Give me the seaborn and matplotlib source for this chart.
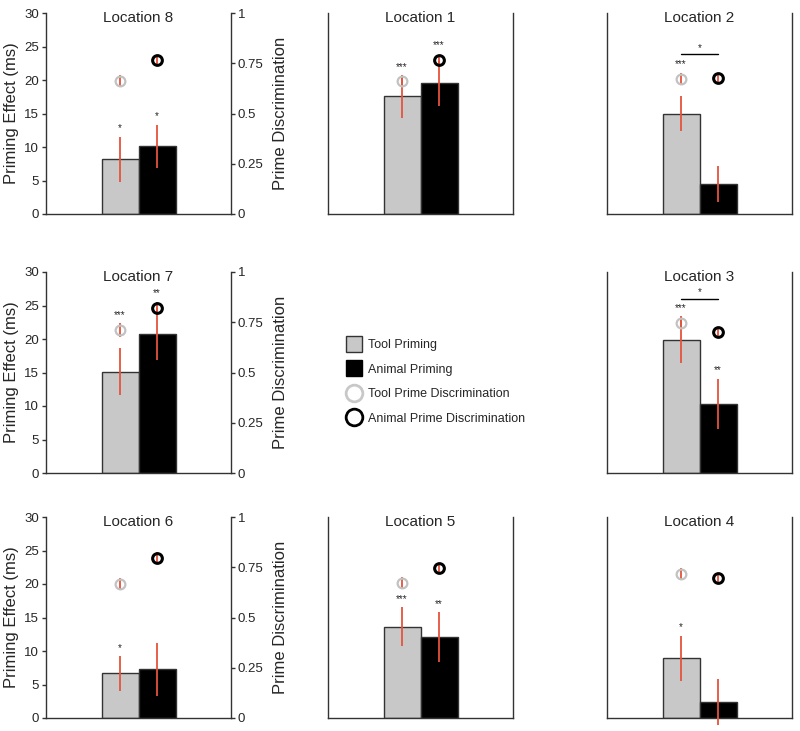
import numpy as np
import pandas as pd
import seaborn as sns
import matplotlib.pyplot as plt
from matplotlib.lines import Line2D

# values per location, index 0 -> Location 1 ... index 7 -> Location 8
locations = [1, 2, 3, 4, 5, 6, 7, 8]
tool_priming = [17.6, 15.0, 19.9, 8.9, 13.6, 6.7, 15.1, 8.2]
tool_err = [3.2, 2.6, 3.5, 3.4, 2.9, 2.6, 3.5, 3.35]
animal_priming = [19.5, 4.45, 10.35, 2.4, 12.1, 7.3, 20.8, 10.1]
animal_err = [3.35, 2.65, 3.75, 3.4, 3.7, 3.95, 3.9, 3.25]
tool_disc = [0.66, 0.673, 0.746, 0.715, 0.672, 0.669, 0.711, 0.663]
tool_disc_err = [0.03, 0.03, 0.03, 0.03, 0.03, 0.03, 0.035, 0.03]
animal_disc = [0.767, 0.675, 0.703, 0.695, 0.746, 0.797, 0.822, 0.767]
animal_disc_err = [0.025, 0.025, 0.025, 0.025, 0.025, 0.03, 0.03, 0.025]

# significance: stars and whether they sit over the bar or the discrimination circle
tool_sig = ['***', '***', '***', '*', '***', '*', '***', '*']
tool_sig_on = ['disc', 'disc', 'disc', 'bar', 'bar', 'bar', 'disc', 'bar']
animal_sig = ['***', '', '**', '', '**', '', '**', '*']
animal_sig_on = ['disc', '', 'bar', '', 'bar', '', 'disc', 'bar']
diff_sig = ['', '*', '*', '', '', '', '', '']

grid = [[8, 1, 2], [7, None, 3], [6, 5, 4]]

TOOL = '#c8c8c8'
ANIMAL = '#000000'
RED = '#e5533c'
SPINE = '#333333'

sns.set_style('white')
plt.rcParams['font.family'] = ['Liberation Sans', 'DejaVu Sans']

W, H = 800, 731
fig = plt.figure(figsize=(W / 100, H / 100), dpi=100)

col_left = [46, 328, 607]
row_top = [13, 272, 517]
aw, ah = 185, 201

for r in range(3):
    for c in range(3):
        loc = grid[r][c]
        if loc is None:
            continue
        i = locations.index(loc)
        ax = fig.add_axes([col_left[c] / W, 1 - (row_top[r] + ah) / H, aw / W, ah / H])

        df = pd.DataFrame({'prime': ['Tool', 'Animal'],
                           'ms': [tool_priming[i], animal_priming[i]]})
        sns.barplot(data=df, x='prime', y='ms', hue='prime',
                    palette={'Tool': TOOL, 'Animal': ANIMAL}, width=1.0,
                    edgecolor=SPINE, linewidth=1, errorbar=None, legend=False, ax=ax)
        eb = ax.errorbar([0, 1], [tool_priming[i], animal_priming[i]],
                         yerr=[tool_err[i], animal_err[i]], fmt='none',
                         ecolor=RED, elinewidth=1.3, capsize=0, zorder=3)
        for ln in eb.lines[2]:
            ln.set_clip_on(False)

        ax.set_xlim(-2, 3)
        ax.set_ylim(0, 30)
        ax.set_xlabel('')
        ax.set_xticks([])

        ax2 = ax.twinx()
        ax2.set_ylim(0, 1)
        ax2.errorbar([0], [tool_disc[i]], yerr=[tool_disc_err[i]], fmt='none',
                     ecolor=RED, elinewidth=1.3, capsize=0)
        ax2.errorbar([1], [animal_disc[i]], yerr=[animal_disc_err[i]], fmt='none',
                     ecolor=RED, elinewidth=1.3, capsize=0)
        ax2.plot([0], [tool_disc[i]], marker='o', ms=7, mfc='none', mec='#c2c2c2',
                 mew=1.6, ls='none')
        ax2.plot([1], [animal_disc[i]], marker='o', ms=7, mfc='none', mec='black',
                 mew=2.2, ls='none')

        for a in (ax, ax2):
            a.spines['top'].set_visible(False)
            for s in a.spines.values():
                s.set_color(SPINE)
                s.set_linewidth(1)
        ax.spines['right'].set_visible(False)
        ax2.spines['left'].set_visible(False)
        ax2.spines['bottom'].set_visible(False)

        if c == 0:
            ax.set_yticks([0, 5, 10, 15, 20, 25, 30])
            ax.tick_params(axis='y', left=True, direction='out', length=3,
                           width=1, color=SPINE, labelsize=9.5, pad=2)
            ax2.set_yticks([0, 0.25, 0.5, 0.75, 1])
            ax2.set_yticklabels(['0', '0.25', '0.5', '0.75', '1'])
            ax2.tick_params(axis='y', right=True, direction='out', length=3,
                            width=1, color=SPINE, labelsize=9.5, pad=2)
            ax.set_ylabel('Priming Effect (ms)', fontsize=12, labelpad=4)
            ax2.set_ylabel('Prime Discrimination', fontsize=12, labelpad=7)
        else:
            ax.set_yticks([])
            ax2.set_yticks([])
            ax.set_ylabel('')

        ax.text(0.5, 1.01, f'Location {loc}', transform=ax.transAxes,
                ha='center', va='top', fontsize=11)

        # significance stars
        star_y = []
        for x, sig, on, val, err, disc in [
                (0, tool_sig[i], tool_sig_on[i], tool_priming[i], tool_err[i], tool_disc[i]),
                (1, animal_sig[i], animal_sig_on[i], animal_priming[i], animal_err[i], animal_disc[i])]:
            y = val + err + 1.2 if on == 'bar' else disc * 30 + 2.2
            star_y.append(y)
            if sig:
                ax.text(x, y, sig, ha='center', va='center', fontsize=7)
        if diff_sig[i]:
            yb = star_y[0] + 1.45
            ax.plot([0, 1], [yb, yb], color='black', lw=1)
            ax.text(0.5, yb + 0.9, diff_sig[i], ha='center', va='center', fontsize=7)

handles = [
    Line2D([], [], marker='s', ms=12, mfc=TOOL, mec=SPINE, mew=1, ls='none'),
    Line2D([], [], marker='s', ms=12, mfc=ANIMAL, mec=ANIMAL, mew=1, ls='none'),
    Line2D([], [], marker='o', ms=12, mfc='none', mec='#c8c8c8', mew=2, ls='none'),
    Line2D([], [], marker='o', ms=12, mfc='none', mec='black', mew=2, ls='none'),
]
labels = ['Tool Priming', 'Animal Priming', 'Tool Prime Discrimination',
          'Animal Prime Discrimination']
fig.legend(handles, labels, loc='center left', bbox_to_anchor=(345 / W, 1 - 382 / H),
           frameon=False, fontsize=9, handlelength=1.4, handletextpad=0.4,
           labelspacing=1.0, borderpad=0, borderaxespad=0)

fig.savefig('out.png', dpi=100)
